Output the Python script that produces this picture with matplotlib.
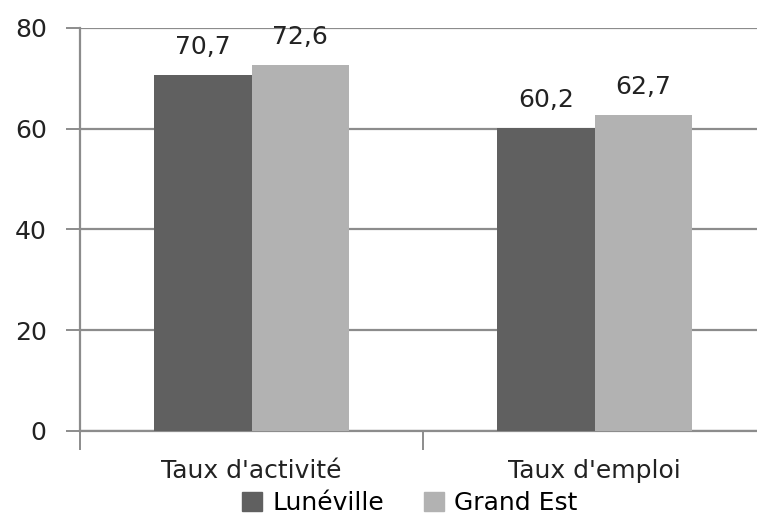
import numpy as np
import matplotlib.pyplot as plt
from matplotlib.patches import Patch

categories = ["Taux d'activité", "Taux d'emploi"]
series = ['Lunéville', 'Grand Est']
luneville = [70.7, 60.2]
grand_est = [72.6, 62.7]
colors = ['#606060', '#b2b2b2']

fig = plt.figure(figsize=(7.57, 5.17), dpi=100)
ax = fig.add_axes([80/757, 1-431/517, 686/757, 403/517])

x = np.arange(len(categories))
w = 0.283
b1 = ax.bar(x - w/2, luneville, w, color=colors[0], zorder=3)
b2 = ax.bar(x + w/2, grand_est, w, color=colors[1], zorder=3)

for bars, vals in ((b1, luneville), (b2, grand_est)):
    for r, v in zip(bars, vals):
        ax.text(r.get_x() + r.get_width()/2, v + 3.2, f'{v:.1f}'.replace('.', ','),
                ha='center', va='bottom', fontsize=18, color='#222222')

ax.set_xlim(-0.5, 1.5)
ax.set_ylim(0, 80)
ax.set_yticks([0, 20, 40, 60, 80])
ax.yaxis.grid(True, color='#8c8c8c', linewidth=1.6, zorder=0)
ax.set_xticks([-0.5, 0.5, 1.5])
ax.set_xticklabels([])
ax.set_xticks(x, minor=True)
ax.set_xticklabels(categories, minor=True, fontsize=18, color='#222222')
ax.tick_params(axis='x', which='minor', length=0, pad=20)
ax.tick_params(axis='x', which='major', length=14, width=1.4, color='#8c8c8c')
ax.tick_params(axis='y', length=10, width=1.4, color='#8c8c8c', labelsize=18,
               labelcolor='#222222', pad=14)

for s in ['top', 'right']:
    ax.spines[s].set_visible(False)
for s in ['left', 'bottom']:
    ax.spines[s].set_color('#8c8c8c')
    ax.spines[s].set_linewidth(1.6)

handles = [Patch(color=c, label=l) for c, l in zip(colors, series)]
fig.legend(handles=handles, loc='center', bbox_to_anchor=(410/757, 1-503/517),
           ncol=2, frameon=False, fontsize=18, handlelength=0.8, handleheight=0.8,
           handletextpad=0.4, columnspacing=1.6, borderaxespad=0)

fig.savefig('out.png', dpi=100)
